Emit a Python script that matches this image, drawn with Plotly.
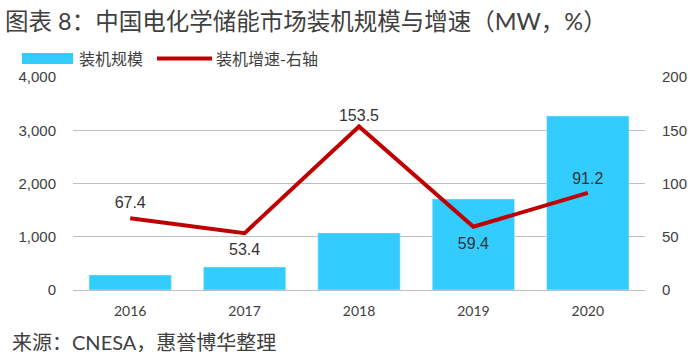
import plotly.graph_objects as go

years = ["2016", "2017", "2018", "2019", "2020"]
capacity_mw = [282, 432, 1072.7, 1709.6, 3269.2]
growth_pct = [67.4, 53.4, 153.5, 59.4, 91.2]

BAR = "#33CCFF"
LINE = "#C00000"
GRID = "#BFBFBF"
TXT = "#404040"
CJK = "Lato, Noto Sans CJK SC, sans-serif"

# label placement styling (per point)
label_pos = ["top center", "bottom center", "top center", "bottom center", "top center"]
label_gap = [9, 14, 1, 15, 6]

# plot area in pixels
L, R, T, B = 73, 645, 77, 290
W, H = 700, 359
def px(x):
    return (x - L) / (R - L)
def py(y):
    return (B - y) / (B - T)

fig = go.Figure()
fig.add_trace(go.Bar(x=years, y=capacity_mw, name="装机规模", marker_color=BAR,
                     width=0.72, yaxis="y", showlegend=False))
fig.add_trace(go.Scatter(x=years, y=growth_pct, name="装机增速-右轴", yaxis="y2",
                         mode="lines+markers+text",
                         line=dict(color=LINE, width=4),
                         marker=dict(size=label_gap, color="rgba(0,0,0,0)", opacity=0,
                                     line=dict(width=0, color="rgba(0,0,0,0)")),
                         text=[f"{v:.1f}" for v in growth_pct],
                         textposition=label_pos,
                         textfont=dict(family="Liberation Sans, Arial", size=16, color="#333333"),
                         showlegend=False))

fig.update_layout(
    width=W, height=H,
    margin=dict(l=L, r=W - R, t=T, b=H - B),
    paper_bgcolor="white", plot_bgcolor="white",
    title=dict(text="图表 8：中国电化学储能市场装机规模与增速（MW，%）",
               xref="container", yref="container", x=5 / W, xanchor="left",
               y=1 - 22 / H, yanchor="middle",
               font=dict(family=CJK, size=23.5, color=TXT)),
    xaxis=dict(showgrid=False, showline=True, linecolor=GRID, linewidth=1,
               ticks="outside", ticklen=8, tickcolor="rgba(0,0,0,0)",
               tickfont=dict(family="Lato", size=14, color=TXT)),
    yaxis=dict(range=[0, 4000], dtick=1000, tickformat=",", showgrid=True,
               gridcolor=GRID, gridwidth=1, zeroline=False, showline=False,
               ticks="outside", ticklen=13, tickcolor="rgba(0,0,0,0)",
               tickfont=dict(family="Liberation Sans, Arial", size=15, color=TXT)),
    yaxis2=dict(range=[0, 200], dtick=50, overlaying="y", side="right",
                showgrid=False, zeroline=False, showline=False,
                ticks="outside", ticklen=13, tickcolor="rgba(0,0,0,0)",
                tickfont=dict(family="Liberation Sans, Arial", size=15, color=TXT)),
    showlegend=False,
    hovermode=False,
)

# legend drawn manually (wide swatches like the reference)
fig.add_shape(type="rect", xref="paper", yref="paper",
              x0=px(22), x1=px(73), y0=py(64), y1=py(53),
              fillcolor=BAR, line=dict(width=0))
fig.add_shape(type="line", xref="paper", yref="paper",
              x0=px(157), x1=px(212), y0=py(58.5), y1=py(58.5),
              line=dict(color=LINE, width=4))
fig.add_annotation(text="装机规模", xref="paper", yref="paper", x=px(77), y=py(58.5),
                   xanchor="left", yanchor="middle", showarrow=False,
                   font=dict(family=CJK, size=16, color=TXT))
fig.add_annotation(text="装机增速-右轴", xref="paper", yref="paper", x=px(214), y=py(58.5),
                   xanchor="left", yanchor="middle", showarrow=False,
                   font=dict(family=CJK, size=16, color=TXT))
fig.add_annotation(text="来源：CNESA，惠誉博华整理", xref="paper", yref="paper",
                   x=px(10), y=py(342), xanchor="left", yanchor="middle", showarrow=False,
                   font=dict(family=CJK, size=20, color=TXT))

fig.write_html("out.html", config={"displayModeBar": False},
               post_script="document.body.style.margin='0';")
